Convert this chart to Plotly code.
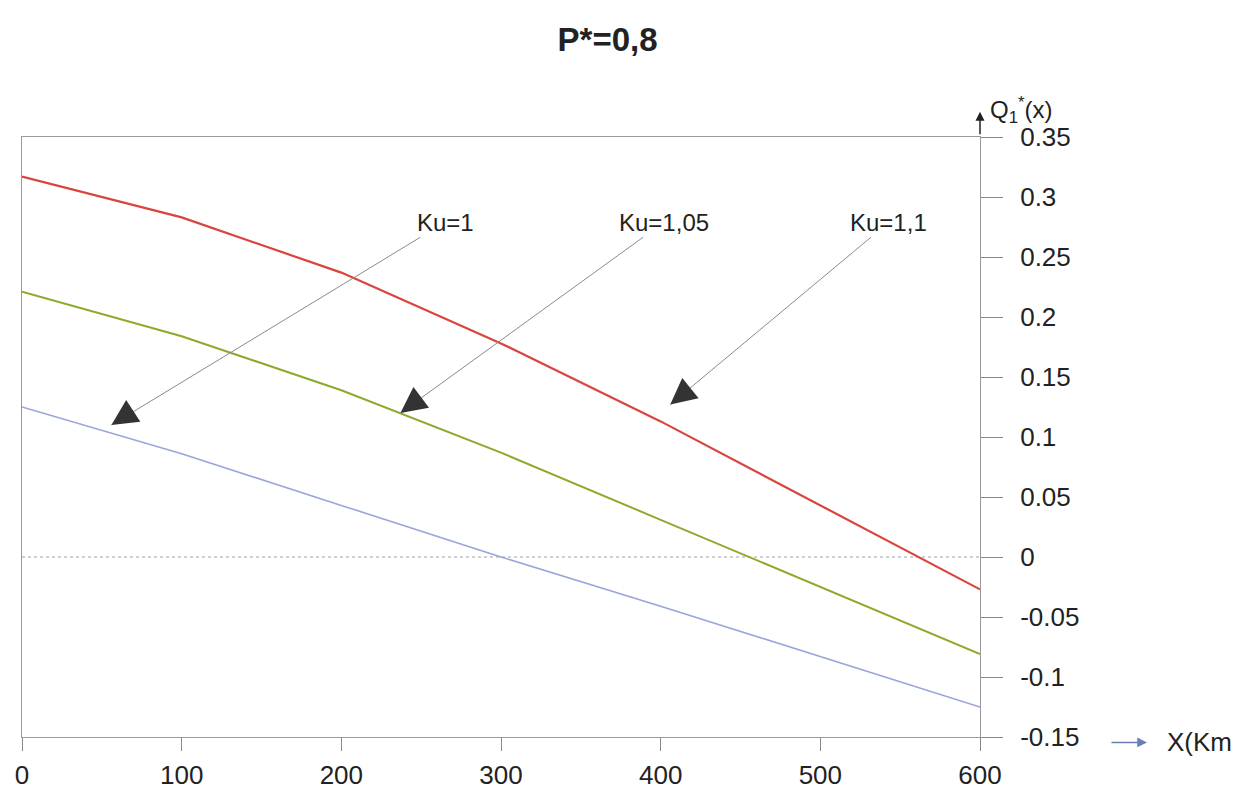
import plotly.graph_objects as go

# ---- data ----
x_km = [0, 100, 200, 300, 400, 500, 600]
ku_1 = [0.125, 0.086, 0.043, 0.0, -0.041, -0.083, -0.125]
ku_105 = [0.221, 0.184, 0.139, 0.087, 0.031, -0.025, -0.081]
ku_11 = [0.317, 0.283, 0.237, 0.178, 0.113, 0.043, -0.027]

y_tickvals = [0.35, 0.3, 0.25, 0.2, 0.15, 0.1, 0.05, 0, -0.05, -0.1, -0.15]
y_ticktext = ["0.35", "0.3", "0.25", "0.2", "0.15", "0.1", "0.05", "0", "-0.05", "-0.1", "-0.15"]
x_tickvals = [0, 100, 200, 300, 400, 500, 600]
x_ticktext = ["0", "100", "200", "300", "400", "500", "600"]

labels = ["Ku=1", "Ku=1,05", "Ku=1,1"]
# arrow tip (on curve) and label position, in data units
arrow_tip_x = [56, 237, 406]
arrow_tip_y = [0.110, 0.120, 0.127]
label_x = [265, 402, 543]
label_y = [0.279, 0.279, 0.279]
# short direction offsets (pixels) for the dark arrow heads
head_ax = [17, 16, 16]
head_ay = [-11, -12, -13]

FONT = "Liberation Sans, Arial, sans-serif"

fig = go.Figure()
fig.add_trace(go.Scatter(x=x_km, y=ku_1, mode="lines", name="Ku=1",
                         line=dict(color="#98a6dc", width=1.6), showlegend=False))
fig.add_trace(go.Scatter(x=x_km, y=ku_105, mode="lines", name="Ku=1,05",
                         line=dict(color="#8caa2c", width=2), showlegend=False))
fig.add_trace(go.Scatter(x=x_km, y=ku_11, mode="lines", name="Ku=1,1",
                         line=dict(color="#d9443c", width=2.2), showlegend=False))

# dotted zero line
fig.add_shape(type="line", xref="paper", yref="y", x0=0, x1=1, y0=0, y1=0,
              line=dict(color="#a0a0a0", width=1, dash="dot"), layer="below")

annotations = []
for i in range(3):
    annotations.append(dict(
        x=arrow_tip_x[i], y=arrow_tip_y[i], xref="x", yref="y",
        ax=label_x[i], ay=label_y[i], axref="x", ayref="y",
        text=labels[i], showarrow=True, arrowhead=0, arrowwidth=1,
        arrowcolor="#8a8a8a", font=dict(family=FONT, size=24, color="#222"),
        standoff=0))
    annotations.append(dict(
        x=arrow_tip_x[i], y=arrow_tip_y[i], xref="x", yref="y",
        ax=head_ax[i], ay=head_ay[i], text="", showarrow=True,
        arrowhead=2, arrowsize=2.6, arrowwidth=2, arrowcolor="#333333"))

# y axis label & arrow
annotations.append(dict(x=1.008, y=1.045, xref="paper", yref="paper",
                        text="Q<sub>1</sub><sup>*</sup>(x)", showarrow=False,
                        xanchor="left", yanchor="middle",
                        font=dict(family=FONT, size=24, color="#222")))
annotations.append(dict(x=600, y=1.042, xref="x", yref="paper", ax=0, ay=24,
                        text="", showarrow=True, arrowhead=2, arrowsize=1.2,
                        arrowwidth=1.5, arrowcolor="#222"))
# x axis label & arrow
annotations.append(dict(x=1.1743, y=-0.009, xref="paper", yref="paper",
                        ax=-37, ay=0, text="", showarrow=True, arrowhead=2,
                        arrowsize=1.3, arrowwidth=1.5, arrowcolor="#6a7fb8"))
annotations.append(dict(x=1.193, y=-0.009, xref="paper", yref="paper",
                        text="X(Km", showarrow=False, xanchor="left", yanchor="middle",
                        font=dict(family=FONT, size=26, color="#222")))

fig.update_layout(
    width=1240, height=796,
    margin=dict(l=22, r=260, t=137, b=59, autoexpand=False),
    paper_bgcolor="white", plot_bgcolor="white",
    title=dict(text="<b>P*=0,8</b>", x=0.49, xref="container", y=0.95,
               yref="container", xanchor="center", yanchor="middle",
               font=dict(family=FONT, size=33, color="#222")),
    xaxis=dict(range=[0, 600], tickvals=x_tickvals, ticktext=x_ticktext,
               automargin=False,
               showgrid=False, zeroline=False, showline=True, mirror=True,
               linecolor="#9a9a9a", linewidth=1, ticks="outside", ticklen=13,
               tickcolor="#888", tickfont=dict(family=FONT, size=26, color="#222"),
               ticklabelstandoff=2),
    yaxis=dict(range=[-0.15, 0.35], side="right", tickvals=y_tickvals,
               ticktext=y_ticktext, showgrid=False, zeroline=False,
               automargin=False,
               showline=True, mirror=True, linecolor="#9a9a9a", linewidth=1,
               ticks="outside", ticklen=22, tickcolor="#888",
               tickfont=dict(family=FONT, size=26, color="#222"),
               ticklabelstandoff=12),
    annotations=annotations,
)

fig.write_html("out.html")
